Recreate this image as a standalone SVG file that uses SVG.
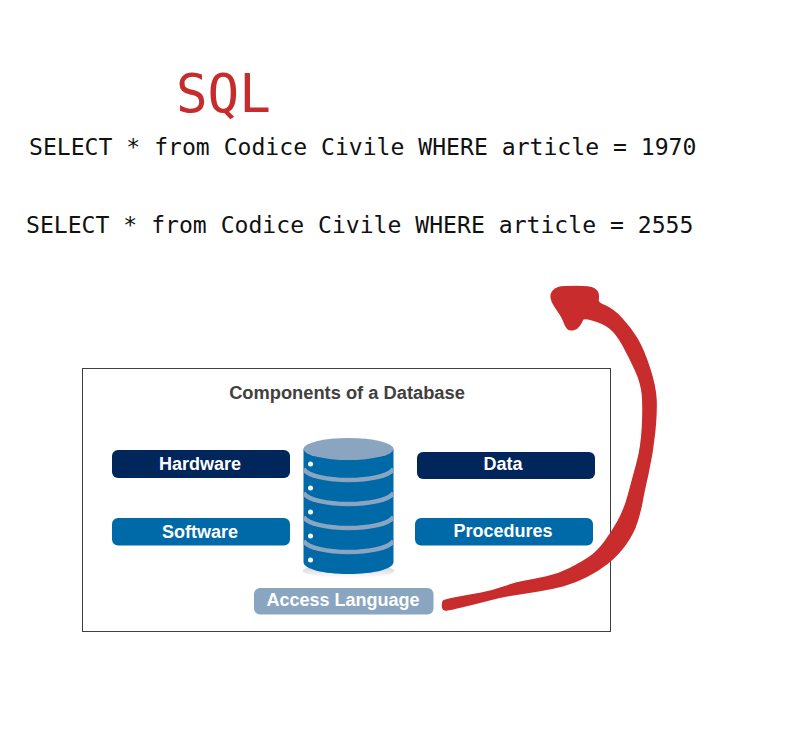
<svg xmlns="http://www.w3.org/2000/svg" width="812" height="738" viewBox="0 0 812 738">
<defs>
<linearGradient id="shadow" x1="0" y1="0" x2="0" y2="1"><stop offset="0" stop-color="#8a949c" stop-opacity=".5"/><stop offset="1" stop-color="#8a949c" stop-opacity="0"/></linearGradient>
<clipPath id="body"><path d="M303.500 449V562C303.500 569 323 574 348.500 574S393.500 569 393.500 562V449Z"/></clipPath>
</defs>
<style>
.q{font-family:"DejaVu Sans Mono","Liberation Mono",monospace;font-size:23.1px;fill:#111}
.l{font-family:"Liberation Sans",Arial,sans-serif;font-size:18px;font-weight:700;fill:#fff;text-anchor:middle}
.navy{fill:#00265c}.blue{fill:#0069a8}.light{fill:#89a5c0}
.band{fill:none;stroke:#89a5c0;stroke-width:4.500}
.dot{fill:#fff}
</style>
<rect width="812" height="738" fill="#fff"/>
<g id="title"><text x="176" y="112" font-family="'DejaVu Sans Mono','Liberation Mono',monospace" font-size="52.500" fill="#c62c2c">SQL</text></g>
<g id="query1"><text class="q" x="29" y="155">SELECT * from Codice Civile WHERE article = 1970</text></g>
<g id="query2"><text class="q" x="26" y="233">SELECT * from Codice Civile WHERE article = 2555</text></g>
<g id="frame"><rect x="82.500" y="368.500" width="528" height="263" fill="#fff" stroke="#404040" stroke-width="1"/>
<text x="347" y="399" font-family="'Liberation Sans',Arial,sans-serif" font-size="18.300" font-weight="700" fill="#404040" text-anchor="middle">Components of a Database</text></g>
<g id="hardware"><rect class="navy" x="112" y="450" width="178" height="28" rx="6"/><text class="l" x="200" y="469.500">Hardware</text></g>
<g id="data"><rect class="navy" x="417" y="452" width="178" height="27" rx="6"/><text class="l" x="503" y="470">Data</text></g>
<g id="software"><rect class="blue" x="112" y="518" width="178" height="27.500" rx="6"/><text class="l" x="200" y="537.500">Software</text></g>
<g id="procedures"><rect class="blue" x="415" y="518" width="178" height="27.500" rx="6"/><text class="l" x="503" y="537">Procedures</text></g>
<g id="access"><rect class="light" x="254" y="588" width="179.500" height="26.500" rx="6"/><text class="l" x="343" y="606">Access Language</text></g>
<g id="database">
<ellipse cx="348.500" cy="571" rx="46" ry="7" fill="url(#shadow)"/>
<path class="blue" d="M303.500 449V562C303.500 569 323 574 348.500 574S393.500 569 393.500 562V449Z"/>
<g clip-path="url(#body)">
<path class="band" d="M303.500 469C308 476 328 480 348.500 480S389 476 393.500 469"/>
<path class="band" d="M303.500 493C308 500 328 504 348.500 504S389 500 393.500 493"/>
<path class="band" d="M303.500 517C308 524 328 528 348.500 528S389 524 393.500 517"/>
<path class="band" d="M303.500 541C308 548 328 552 348.500 552S389 548 393.500 541"/>
</g>
<ellipse class="light" cx="348.500" cy="449" rx="45" ry="11"/>
<circle class="dot" cx="310.500" cy="464" r="2.500"/><circle class="dot" cx="310.500" cy="488" r="2.500"/><circle class="dot" cx="310.500" cy="512" r="2.500"/><circle class="dot" cx="310.500" cy="536" r="2.500"/><circle class="dot" cx="310.500" cy="560" r="2.500"/>
</g>
<g id="connectors">
<path fill="#c82c2c" stroke="#c82c2c" stroke-width="2.500" stroke-linejoin="round" d="M444 601.250Q445 600.500 456.500 598.250Q468 596 480 594Q492 592 503.500 587.750Q515 583.500 525 581.750Q535 580 546.500 577.500Q558 575 570 569Q582 563 590 557.500Q598 552 605 542.500Q612 533 618.500 521.500Q625 510 629 495Q633 480 637.500 463.500Q642 447 643 427Q644 407 643 395Q642 383 636 370Q630 357 623.500 345Q617 333 610 327.500Q603 322 593 319.500Q583 317 582 319.500Q581 322 579 325Q577 328 573.500 329Q570 330 568 328Q566 326 564.500 321.500Q563 317 558 310Q553 303 552 299Q551 295 553 292Q555 289 559 288Q563 287 576.500 287Q590 287 593.500 289Q597 291 597.500 294Q598 297 597.500 300Q597 303 605 306.500Q613 310 621.500 319Q630 328 636.500 339Q643 350 649 368.500Q655 387 655.500 400Q656 413 654 433Q652 453 647.500 473Q643 493 641.500 501.500Q640 510 636.500 521.500Q633 533 625 544Q617 555 607.500 562.500Q598 570 586.500 576Q575 582 563.500 585Q552 588 540 590Q528 592 515 594Q502 596 488.500 599.500Q475 603 462.500 606Q450 609 446.500 609.500Q443 610 443 606Q443 602 444 601.250Z"/>
</g>
</svg>
